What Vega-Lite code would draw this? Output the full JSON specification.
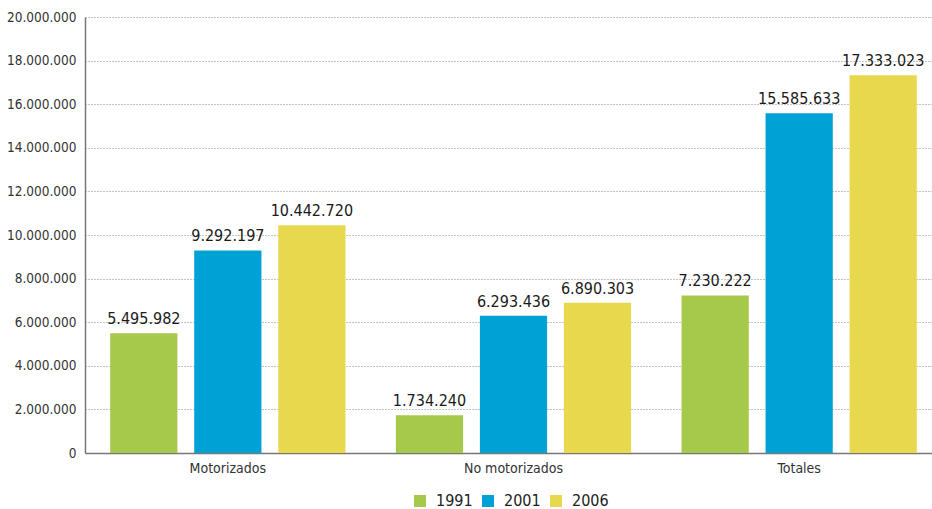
{
  "$schema": "https://vega.github.io/schema/vega-lite/v6.json",
  "autosize": "none",
  "width": 857,
  "height": 436,
  "padding": {"left": 85, "top": 17, "right": 0, "bottom": 56},
  "background": "white",
  "config": {
    "locale": {"number": {"decimal": ",", "thousands": ".", "grouping": [3], "currency": ["", " €"]}},
    "font": "'DejaVu Sans Condensed', 'Open Sans', sans-serif",
    "view": {"stroke": null}
  },
  "data": {"values": [
    {"cat": "Motorizados", "year": "1991", "v": 5495982},
    {"cat": "Motorizados", "year": "2001", "v": 9292197},
    {"cat": "Motorizados", "year": "2006", "v": 10442720},
    {"cat": "No motorizados", "year": "1991", "v": 1734240},
    {"cat": "No motorizados", "year": "2001", "v": 6293436},
    {"cat": "No motorizados", "year": "2006", "v": 6890303},
    {"cat": "Totales", "year": "1991", "v": 7230222},
    {"cat": "Totales", "year": "2001", "v": 15585633},
    {"cat": "Totales", "year": "2006", "v": 17333023}
  ]},
  "encoding": {
    "x": {"field": "cat", "type": "nominal", "sort": null,
      "scale": {"paddingInner": 0, "paddingOuter": 0},
      "axis": {"title": null, "labelAngle": 0, "domainColor": "#777777", "domainWidth": 1.5, "ticks": false, "labelFontSize": 14, "labelColor": "#333333", "labelPadding": 8}},
    "xOffset": {"field": "year", "type": "nominal", "scale": {"paddingInner": 0.2, "paddingOuter": 0.3}},
    "y": {"field": "v", "type": "quantitative",
      "scale": {"domain": [0, 20000000]},
      "axis": {"title": null, "tickCount": 10, "format": ",d", "grid": true, "gridColor": "#888888", "gridDash": [1, 2], "gridWidth": 1, "ticks": false, "domain": true, "domainColor": "#777777", "domainWidth": 1.5, "labelFontSize": 13.5, "labelColor": "#333333", "labelPadding": 9}}
  },
  "layer": [
    {"mark": {"type": "bar"},
     "encoding": {"color": {"field": "year", "type": "nominal",
        "scale": {"domain": ["1991", "2001", "2006"], "range": ["#a6c94b", "#00a1d5", "#e8d84e"]},
        "legend": {"title": null, "orient": "none", "legendX": 327, "legendY": 476, "direction": "horizontal", "symbolType": "square", "symbolSize": 144, "symbolStrokeWidth": 0, "labelFontSize": 16, "labelColor": "#222222", "columnPadding": 7, "labelOffset": 8}}}},
    {"mark": {"type": "text", "dy": -14, "fontSize": 16, "color": "#1a1a1a"},
     "encoding": {"text": {"field": "v", "type": "quantitative", "format": ",d"}}}
  ]
}
